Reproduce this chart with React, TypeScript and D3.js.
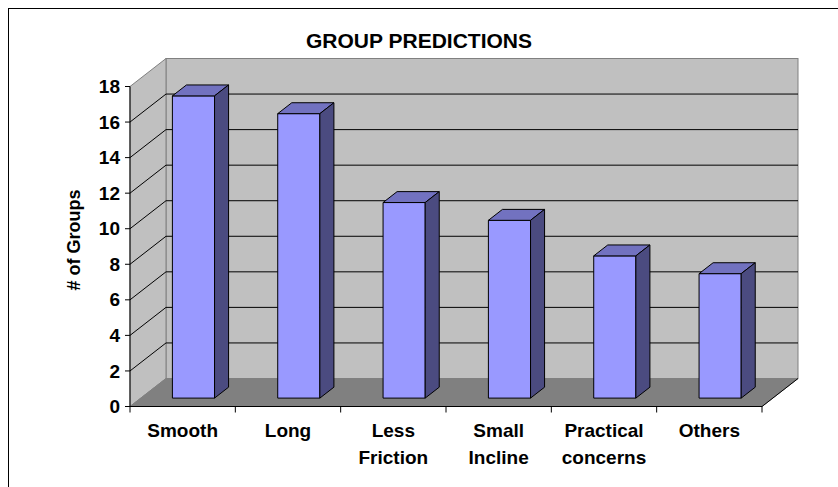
import React from "react";
import * as d3 from "d3";

// Chart data
const categories = ["Smooth", "Long", "Less Friction", "Small Incline", "Practical concerns", "Others"];
const categoryLines = [["Smooth"], ["Long"], ["Less", "Friction"], ["Small", "Incline"], ["Practical", "concerns"], ["Others"]];
const groupCounts = [17, 16, 11, 10, 8, 7];
const yTicks = [0, 2, 4, 6, 8, 10, 12, 14, 16, 18];
const chartTitle = "GROUP PREDICTIONS";
const yAxisTitle = "# of Groups";

const W = 838;
const H = 487;

// Front plane of the 3D box and the depth offset to the back wall
const X0 = 130;
const X1 = 762;
const Y_BOTTOM = 406.5;
const Y_TOP = 86.5;
const DX = 36;
const DY = -28;
// Bars sit in the middle slice of the depth
const D_FRONT = 0.3;
const D_BACK = 0.69;

const FONT = "'Liberation Sans', Arial, Helvetica, sans-serif";

export default function App() {
  const x = d3.scaleBand<string>().domain(categories).range([X0, X1]).paddingInner(0.6).paddingOuter(0.3);
  const y = d3.scaleLinear().domain([0, 18]).range([Y_BOTTOM, Y_TOP]);
  const step = x.step();
  const bw = x.bandwidth();

  const pts = (p: [number, number][]) => p.map((q) => q.join(",")).join(" ");

  const backLeft = X0 + DX;
  const backRight = X1 + DX;
  const yBack = (v: number) => y(v) + DY;

  const dd = D_BACK - D_FRONT;

  return (
    <svg width={W} height={H} style={{ position: "absolute", left: 0, top: 0, background: "#fff" }} fontFamily={FONT}>
      <rect x={8.5} y={8.5} width={W + 10} height={H + 10} fill="#fff" stroke="#000" strokeWidth={1} />

      {/* back wall */}
      <rect x={backLeft} y={yBack(18)} width={backRight - backLeft} height={yBack(0) - yBack(18)} fill="#C0C0C0" stroke="#808080" />
      {/* left wall */}
      <polygon
        points={pts([[X0, y(0)], [backLeft, yBack(0)], [backLeft, yBack(18)], [X0, y(18)]])}
        fill="#C0C0C0"
        stroke="#808080"
      />
      {/* floor */}
      <polygon
        points={pts([[X0, y(0)], [backLeft, yBack(0)], [backRight, yBack(0)], [X1, y(0)]])}
        fill="#808080"
        stroke="#808080"
      />
      <line x1={X1} y1={y(0)} x2={backRight} y2={yBack(0)} stroke="#000" />

      {/* gridlines */}
      {yTicks.filter((t) => t > 0 && t < 18).map((t) => (
        <g key={t}>
          <line x1={X0} y1={y(t)} x2={backLeft} y2={yBack(t)} stroke="#000" />
          <line x1={backLeft} y1={yBack(t)} x2={backRight} y2={yBack(t)} stroke="#000" />
        </g>
      ))}

      {/* bars */}
      {categories.map((c, i) => {
        const v = groupCounts[i];
        const xl = (x(c) as number) + D_FRONT * DX;
        const xr = xl + bw;
        const yt = y(v) + D_FRONT * DY;
        const yb = y(0) + D_FRONT * DY;
        const ox = dd * DX;
        const oy = dd * DY;
        return (
          <g key={c} stroke="#000" strokeWidth={1} strokeLinejoin="round">
            <rect x={xl} y={yt} width={bw} height={yb - yt} fill="#9999FF" />
            <polygon points={pts([[xl, yt], [xr, yt], [xr + ox, yt + oy], [xl + ox, yt + oy]])} fill="#7272C0" />
            <polygon points={pts([[xr, yt], [xr + ox, yt + oy], [xr + ox, yb + oy], [xr, yb]])} fill="#4B4B80" />
          </g>
        );
      })}

      {/* axes */}
      <line x1={X0} y1={y(0)} x2={X0} y2={y(18)} stroke="#000" />
      <line x1={X0} y1={y(0)} x2={X1} y2={y(0)} stroke="#000" />
      {yTicks.map((t) => (
        <g key={t}>
          <line x1={X0 - 5} y1={y(t)} x2={X0} y2={y(t)} stroke="#000" />
          <text x={X0 - 10} y={y(t)} dy="0.35em" textAnchor="end" fontSize={19} fontWeight="bold">
            {t}
          </text>
        </g>
      ))}
      {d3.range(categories.length + 1).map((i) => (
        <line key={i} x1={X0 + i * step} y1={y(0)} x2={X0 + i * step} y2={y(0) + 6} stroke="#000" />
      ))}
      {categories.map((c, i) => (
        <text key={c} x={(x(c) as number) + bw / 2} y={437} textAnchor="middle" fontSize={19} fontWeight="bold">
          {categoryLines[i].map((ln, j) => (
            <tspan key={j} x={(x(c) as number) + bw / 2} dy={j === 0 ? 0 : 27}>
              {ln}
            </tspan>
          ))}
        </text>
      ))}

      <text x={419} y={48} textAnchor="middle" fontSize={21} fontWeight="bold">
        {chartTitle}
      </text>
      <text transform="translate(80,240) rotate(-90)" textAnchor="middle" fontSize={18} fontWeight="bold">
        {yAxisTitle}
      </text>
    </svg>
  );
}
